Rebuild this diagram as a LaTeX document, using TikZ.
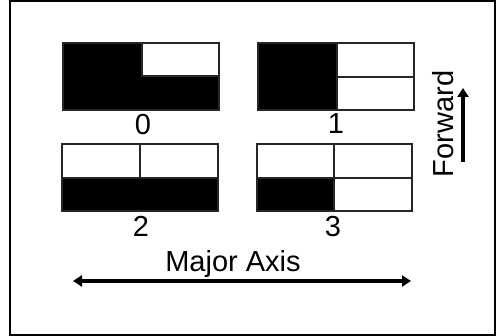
\documentclass[tikz,border=0pt]{standalone}
\usepackage{fontspec}
\setmainfont{Liberation Sans}
\usetikzlibrary{arrows.meta}
\begin{document}
\begin{tikzpicture}[x=1pt,y=-1pt,
  cell/.style={draw=black!85, line width=1.4pt},
  blk/.style={fill=black},
  lbl/.style={font=\fontsize{29}{32}\selectfont, anchor=base, inner sep=0pt},
  axis/.style={line width=3.4pt, {Triangle[length=9pt,width=11pt]}-{Triangle[length=9pt,width=11pt]}},
  fwd/.style={line width=3.4pt, -{Triangle[length=9pt,width=11pt]}}]
\useasboundingbox (0,0) rectangle (496,336);
\draw[line width=1.8pt] (10,1) rectangle (495,335);
% box 0
\fill[blk] (63,43) rectangle (219,110);
\fill[white] (142,43) rectangle (219,76);
\draw[cell] (63,43) rectangle (219,110);
\draw[cell] (142,43) -- (142,76) -- (219,76);
% box 1
\fill[blk] (258,43) rectangle (337,110);
\draw[cell] (258,43) rectangle (414,110);
\draw[cell] (337,43) -- (337,110);
\draw[cell] (337,77) -- (414,77);
% box 2
\fill[blk] (62,178) rectangle (218,211);
\draw[cell] (62,144) rectangle (218,211);
\draw[cell] (140,144) -- (140,178);
\draw[cell] (62,178) -- (218,178);
% box 3
\fill[blk] (257,178) rectangle (334,211);
\draw[cell] (257,144) rectangle (412,211);
\draw[cell] (334,144) -- (334,211);
\draw[cell] (257,178) -- (412,178);
% labels
\node[lbl] (l0) at (143,135) {0};
\node[lbl] (l1) at (336,134) {1};
\node[lbl] (l2) at (141,237) {2};
\node[lbl] (l3) at (333,237) {3};
\node[lbl] (major) at (233,272) {Major Axis};
\node[lbl, rotate=90] (forward) at (453,124) {Forward};
% arrows
\coordinate (aL) at (73,281);
\coordinate (aR) at (411,281);
\draw[axis] (aL) -- (aR);
\coordinate (fB) at (463,162);
\coordinate (fT) at (463,88);
\draw[fwd] (fB) -- (fT);
\end{tikzpicture}
\end{document}
